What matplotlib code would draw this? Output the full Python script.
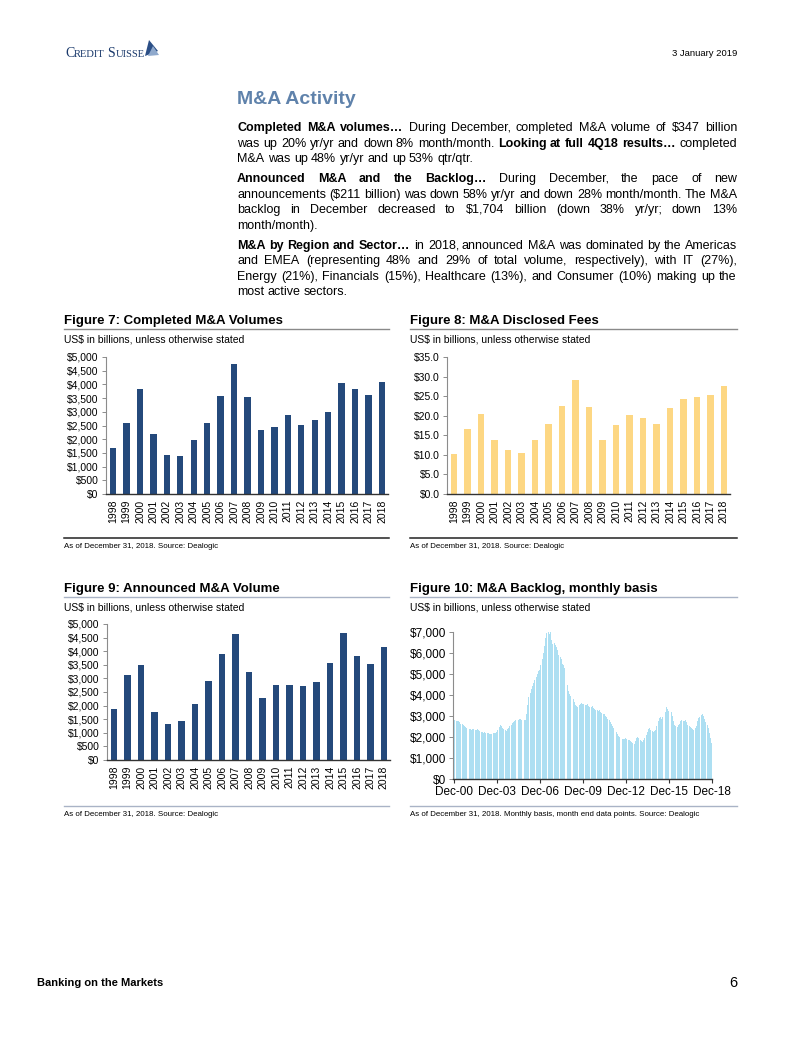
import math
import numpy as np
import matplotlib
matplotlib.use('Agg')
import matplotlib.pyplot as plt
from matplotlib.ticker import FuncFormatter, MultipleLocator
from matplotlib.lines import Line2D
from matplotlib.patches import Polygon
from matplotlib.font_manager import FontProperties

plt.rcParams['font.family'] = ['Liberation Sans', 'DejaVu Sans']

# ---- data ----
years = [str(y) for y in range(1998, 2019)]
completed = [1690, 2600, 3830, 2180, 1440, 1390, 1970, 2590, 3590, 4740, 3550,
             2340, 2460, 2880, 2510, 2700, 3010, 4050, 3840, 3620, 4090]
fees = [10.2, 16.7, 20.5, 13.9, 11.2, 10.4, 13.9, 17.9, 22.6, 29.1, 22.1,
        13.8, 17.7, 20.1, 19.4, 17.9, 21.9, 24.2, 24.8, 25.4, 27.5]
announced = [1870, 3130, 3510, 1770, 1330, 1420, 2050, 2900, 3890, 4640, 3240,
             2280, 2740, 2770, 2710, 2880, 3580, 4680, 3830, 3520, 4150]

backlog_labels = ['Dec-00', 'Dec-03', 'Dec-06', 'Dec-09', 'Dec-12', 'Dec-15', 'Dec-18']
# month end backlog, Dec-00 .. Dec-18
backlog = [2880,
           2830, 2790, 2760, 2780, 2700, 2650, 2620, 2560, 2520, 2480, 2450, 2420,
           2400, 2390, 2360, 2380, 2370, 2340, 2360, 2390, 2350, 2300, 2270, 2240,
           2220, 2230, 2210, 2190, 2200, 2160, 2140, 2170, 2200, 2220, 2180, 2230,
           2330, 2480, 2560, 2520, 2450, 2400, 2340, 2300, 2380, 2450, 2520, 2600,
           2680, 2740, 2790, 2820, 2860, 2830, 2880, 2850, 2820, 2860, 2830, 2800,
           3100, 3550, 3900, 4100, 4300, 4450, 4600, 4700, 4850, 5000, 5150, 5200,
           5450, 5700, 6000, 6350, 6700, 6950, 7000, 6920, 6980, 6600, 6450, 6500,
           6400, 6300, 6150, 5900, 5800, 5700, 5500, 5450, 5300, 4900, 4500, 4200,
           4050, 3950, 3900, 3800, 3650, 3550, 3500, 3450, 3520, 3580, 3620, 3600,
           3580, 3550, 3520, 3560, 3480, 3450, 3430, 3500, 3380, 3350, 3300, 3280,
           3250, 3270, 3220, 3150, 3120, 3080, 3030, 2950, 2880, 2800, 2720, 2650,
           2550, 2450, 2350, 2250, 2150, 2050, 2000, 1950, 1920, 1900, 1920, 1950,
           1900, 1870, 1850, 1820, 1750, 1720, 1700, 1800, 1950, 2030, 1950, 1880,
           1800, 1780, 1850, 1950, 2100, 2250, 2380, 2420, 2350, 2280, 2250, 2300,
           2350, 2550, 2750, 2900, 2950, 2880, 2950, 3050, 3200, 3450, 3350, 3250,
           3300, 3200, 3000, 2750, 2600, 2550, 2500, 2580, 2650, 2750, 2800, 2750,
           2780, 2800, 2720, 2600, 2550, 2500, 2450, 2400, 2350, 2450, 2550, 2750,
           2900, 2980, 3050, 3100, 3000, 2850, 2700, 2600, 2450, 2200, 1950, 1704]

paragraphs = [
    [[("Completed M&A volumes…", True), ("During December, completed M&A volume of $347 billion", False)],
     [("was up 20% yr/yr and down 8% month/month.", False), ("Looking at full 4Q18 results…", True), ("completed", False)],
     [("M&A was up 48% yr/yr and up 53% qtr/qtr.", False)]],
    [[("Announced M&A and the Backlog…", True), ("During December, the pace of new", False)],
     [("announcements ($211 billion) was down 58% yr/yr and down 28% month/month. The M&A", False)],
     [("backlog in December decreased to $1,704 billion (down 38% yr/yr; down 13%", False)],
     [("month/month).", False)]],
    [[("M&A by Region and Sector…", True), ("in 2018, announced M&A was dominated by the Americas", False)],
     [("and EMEA (representing 48% and 29% of total volume, respectively), with IT (27%),", False)],
     [("Energy (21%), Financials (15%), Healthcare (13%), and Consumer (10%) making up the", False)],
     [("most active sectors.", False)]],
]

W, H = 802, 1037
fig = plt.figure(figsize=(W / 100, H / 100), dpi=100)
fig.patch.set_facecolor('white')
rend = fig.canvas.get_renderer()


def put(x, y, s, **kw):
    return fig.text(x / W, 1 - y / H, s, parse_math=False, **kw)


def width(s, **kw):
    t = fig.text(0, 0, s, parse_math=False, **kw)
    w = t.get_window_extent(rend).width
    t.remove()
    return w


def hline(x0, x1, y, color, lw):
    fig.add_artist(Line2D([x0 / W, x1 / W], [1 - y / H, 1 - y / H],
                          transform=fig.transFigure, color=color, lw=lw))


def ax_px(x0, y0, x1, y1):
    return fig.add_axes([x0 / W, 1 - y1 / H, (x1 - x0) / W, (y1 - y0) / H])


# ---- header ----
navy = '#1b3a6c'
logo = [("C", 10.5), ("REDIT", 8), (" ", 8), ("S", 10.5), ("UISSE", 8)]
total = sum(width(s, fontsize=z, family='Liberation Serif') for s, z in logo)
k = 80 / total
x = 65
for s, size in logo:
    put(x, 57, s, fontsize=size * k, family='Liberation Serif', color=navy, va='baseline')
    x += width(s, fontsize=size * k, family='Liberation Serif')
sail1 = [(145, 56), (149, 40), (158, 51)]
sail2 = [(148, 56), (153, 46), (159, 55)]
for pts, c in [(sail1, '#2b4f86'), (sail2, '#8fa9cc')]:
    fig.add_artist(Polygon([(px / W, 1 - py / H) for px, py in pts], closed=True,
                           transform=fig.transFigure, facecolor=c, edgecolor='none'))
put(737, 53, "3 January 2019", fontsize=6.8, ha='right', va='center')

put(237, 100, "M&A Activity", fontsize=14, fontweight='bold', color='#5f82ab', va='center')

# ---- body text, justified ----
BODY = dict(fontsize=9, color='black')
space_w = width("a a", **BODY) - width("aa", **BODY)


def para_line(parts, y, justify):
    words = []
    for s, b in parts:
        for w in s.split():
            words.append((w, 'bold' if b else 'normal'))
    ws = [width(w, fontweight=fw, **BODY) for w, fw in words]
    gap = (500 - sum(ws)) / (len(words) - 1) if justify and len(words) > 1 else space_w
    xx = 237
    for (w, fw), wd in zip(words, ws):
        fp = FontProperties(family=['Liberation Sans', 'DejaVu Sans'], size=9, weight=fw)
        d = rend.get_text_width_height_descent(w, fp, ismath=False)[2]
        # keep all words of a line on the same pixel baseline
        put(round(xx), y + math.floor(d) - d, w, fontweight=fw, va='baseline', **BODY)
        xx += wd + gap


y = 131.0
for para in paragraphs:
    for i, line in enumerate(para):
        para_line(line, round(y), justify=(i < len(para) - 1))
        y += 15.6
    y += 4.2

# ---- figure frames ----
TITLE = dict(fontsize=9.5, fontweight='bold', va='center')
SUB = dict(fontsize=7.5, va='center')
NOTE = dict(fontsize=5.7, va='center')
put(64, 321, "Figure 7: Completed M&A Volumes", **TITLE)
put(410, 321, "Figure 8: M&A Disclosed Fees", **TITLE)
put(64, 589, "Figure 9: Announced M&A Volume", **TITLE)
put(410, 589, "Figure 10: M&A Backlog, monthly basis", **TITLE)
for xa, xb in [(64, 389), (410, 737)]:
    hline(xa, xb, 329.5, '#8a8a8a', 1.0)
    hline(xa, xb, 538, '#222222', 1.1)
    hline(xa, xb, 597, '#a9b3c6', 1.0)
    hline(xa, xb, 806, '#a9b3c6', 1.0)
for xa in [64, 410]:
    put(xa, 340, "US$ in billions, unless otherwise stated", **SUB)
    put(xa, 608, "US$ in billions, unless otherwise stated", **SUB)
put(64, 547, "As of December 31, 2018. Source: Dealogic", **NOTE)
put(410, 547, "As of December 31, 2018. Source: Dealogic", **NOTE)
put(64, 814, "As of December 31, 2018. Source: Dealogic", **NOTE)
put(410, 814, "As of December 31, 2018. Monthly basis, month end data points. Source: Dealogic", **NOTE)

put(37, 983, "Banking on the Markets", fontsize=8, fontweight='bold', va='center')
put(737, 983, "6", fontsize=10.5, ha='right', va='center')


# ---- charts ----
def style(ax, labelsize):
    for s in ['top', 'right']:
        ax.spines[s].set_visible(False)
    ax.spines['left'].set_color('#8c8c8c')
    ax.spines['left'].set_linewidth(0.8)
    ax.spines['bottom'].set_color('#333333')
    ax.spines['bottom'].set_linewidth(1.0)
    ax.tick_params(axis='y', length=3, width=0.7, color='#8c8c8c', labelsize=labelsize, pad=2)
    ax.patch.set_alpha(0)


def bar_chart(rect, vals, color, ymax, step, fmt):
    ax = ax_px(*rect)
    xs = np.arange(len(years))
    ax.bar(xs, vals, width=0.47, color=color, linewidth=0)
    ax.set_xlim(-0.55, len(years) - 0.55)
    ax.set_ylim(0, ymax)
    ax.yaxis.set_major_locator(MultipleLocator(step))
    ax.yaxis.set_major_formatter(FuncFormatter(fmt))
    ax.set_xticks(xs)
    ax.set_xticklabels(years, rotation=90)
    style(ax, 7.5)
    ax.tick_params(axis='x', length=0, pad=4, labelsize=7.5)
    return ax


dollars = lambda v, p: f"${v:,.0f}"
bar_chart((105.7, 357, 388, 494), completed, '#24497b', 5000, 500, dollars)
bar_chart((446.7, 357, 730, 494), fees, '#fdd783', 35, 5, lambda v, p: f"${v:.1f}")
bar_chart((106.7, 624, 390, 760), announced, '#24497b', 5000, 500, dollars)

ax = ax_px(453.3, 632, 712.3, 779.3)
m = np.arange(len(backlog))
ax.bar(m, backlog, width=0.8, color='#addff2', linewidth=0)
ax.set_xlim(-0.3, len(backlog) - 0.6)
ax.set_ylim(0, 7000)
ax.yaxis.set_major_locator(MultipleLocator(1000))
ax.yaxis.set_major_formatter(FuncFormatter(dollars))
ax.set_xticks(np.arange(0, len(backlog), 36))
ax.set_xticklabels(backlog_labels)
style(ax, 8.5)
ax.tick_params(axis='x', length=3, width=0.8, color='#333333', labelsize=8.5, pad=2)

fig.savefig('out.png', dpi=100, facecolor='white')
